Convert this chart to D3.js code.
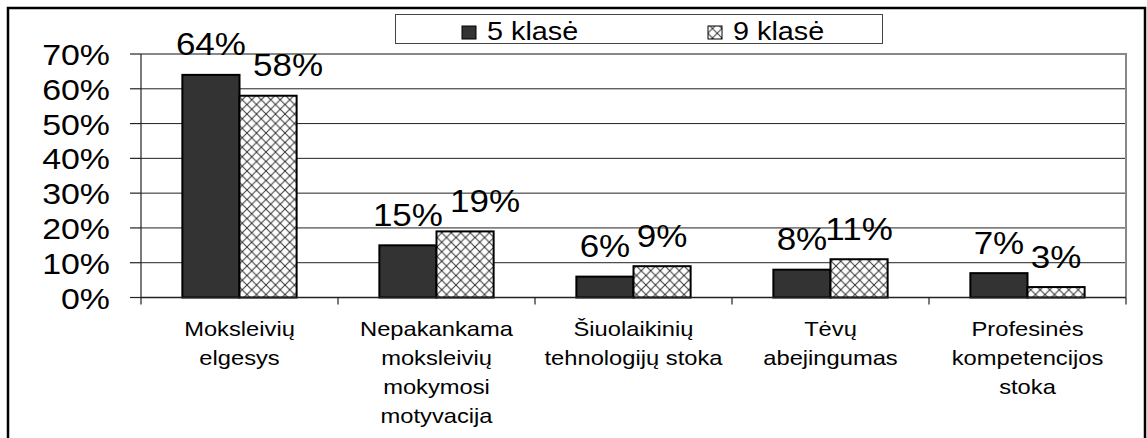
<!DOCTYPE html>
<html>
<head>
<meta charset="utf-8">
<script src="https://cdn.jsdelivr.net/npm/d3@7"></script>
<style>
	body { margin: 0; background: #fff; }
	svg { display: block; }
	text { font-family: "Liberation Sans", Arial, sans-serif; fill: #000; }
</style>
</head>
<body>
<svg id="chart" width="1147" height="438"></svg>
<script>
// data
var categories = [
	["Moksleivių", "elgesys"],
	["Nepakankama", "moksleivių", "mokymosi", "motyvacija"],
	["Šiuolaikinių", "tehnologijų stoka"],
	["Tėvų", "abejingumas"],
	["Profesinės", "kompetencijos", "stoka"]
];
var seriesNames = ["5 klasė", "9 klasė"];
var klase5 = [64, 15, 6, 8, 7];
var klase9 = [58, 19, 9, 11, 3];
var yTicks = [0, 10, 20, 30, 40, 50, 60, 70];

var svg = d3.select("#chart");
var stretch = 1.13; // the source font is drawn a bit wide

// hatch pattern for 9 klasė
var defs = svg.append("defs");
var pat = defs.append("pattern")
	.attr("id", "hatch")
	.attr("patternUnits", "userSpaceOnUse")
	.attr("width", 9.5).attr("height", 9.5);
pat.append("rect").attr("width", 9.5).attr("height", 9.5).attr("fill", "#fff");
pat.append("path")
	.attr("d", "M0,0L9.5,9.5M9.5,0L0,9.5")
	.attr("stroke", "#333").attr("stroke-width", 1);

// outer frame
svg.append("rect")
	.attr("x", 8).attr("y", 8)
	.attr("width", 1137).attr("height", 440)
	.attr("fill", "none").attr("stroke", "#000").attr("stroke-width", 2.5);

var plot = {left: 141, right: 1126, top: 54, bottom: 297.5};

var x = d3.scaleBand()
	.domain(d3.range(categories.length))
	.range([plot.left, plot.right])
	.paddingInner(0).paddingOuter(0);
var y = d3.scaleLinear().domain([0, 70]).range([plot.bottom, plot.top]);
var groupWidth = x.bandwidth() * 0.58;
var xs = d3.scaleBand().domain([0, 1]).range([0, groupWidth]);

function wideText(g, px, py, str, size, anchor){
	g.append("g")
		.attr("transform", "translate(" + px + "," + py + ") scale(" + stretch + ",1)")
		.append("text")
			.attr("font-size", size)
			.attr("text-anchor", anchor)
			.text(str);
}

// gridlines
svg.append("g").selectAll("line")
	.data(yTicks.slice(1, -1))
	.enter().append("line")
		.attr("x1", plot.left).attr("x2", plot.right)
		.attr("y1", function(d) {return y(d);})
		.attr("y2", function(d) {return y(d);})
		.attr("stroke", "#222").attr("stroke-width", 1);

// plot area border top/right
svg.append("path")
	.attr("d", "M" + plot.left + "," + plot.top + "H" + plot.right + "V" + plot.bottom)
	.attr("fill", "none").attr("stroke", "#888").attr("stroke-width", 2);

// y axis
var yAxis = svg.append("g");
yAxis.append("line")
	.attr("x1", plot.left).attr("x2", plot.left)
	.attr("y1", plot.top).attr("y2", plot.bottom)
	.attr("stroke", "#222").attr("stroke-width", 1.2);
yAxis.selectAll(".tick")
	.data(yTicks)
	.enter().append("line")
		.attr("x1", plot.left - 11).attr("x2", plot.left)
		.attr("y1", function(d) {return y(d);})
		.attr("y2", function(d) {return y(d);})
		.attr("stroke", "#222").attr("stroke-width", 1.2);
yTicks.forEach(function(t){
	wideText(yAxis, 110, y(t) + 11, t + "%", 30, "end");
});

// bars
var series = [klase5, klase9];
var fills = ["#333333", "url(#hatch)"];
series.forEach(function(vals, s){
	svg.append("g").selectAll("rect")
		.data(vals)
		.enter().append("rect")
			.attr("x", function(d, i) {return x(i) + (x.bandwidth() - groupWidth) / 2 + xs(s);})
			.attr("width", xs.bandwidth())
			.attr("y", function(d) {return y(d);})
			.attr("height", function(d) {return y(0) - y(d);})
			.attr("fill", fills[s])
			.attr("stroke", "#000").attr("stroke-width", 2);
});

// x axis
var xAxis = svg.append("g");
xAxis.append("line")
	.attr("x1", plot.left).attr("x2", plot.right)
	.attr("y1", plot.bottom).attr("y2", plot.bottom)
	.attr("stroke", "#222").attr("stroke-width", 1.5);
xAxis.selectAll(".tick")
	.data(d3.range(categories.length + 1))
	.enter().append("line")
		.attr("x1", function(d) {return plot.left + d * x.step();})
		.attr("x2", function(d) {return plot.left + d * x.step();})
		.attr("y1", plot.bottom).attr("y2", plot.bottom + 7)
		.attr("stroke", "#222").attr("stroke-width", 1.2);
categories.forEach(function(lines, i){
	lines.forEach(function(l, j){
		wideText(xAxis, x(i) + x.bandwidth() / 2, 336 + j * 29, l, 21, "middle");
	});
});

// value labels; the two tallest 9 klasė labels sit a little to the right in the source
var labels = svg.append("g");
series.forEach(function(vals, s){
	vals.forEach(function(v, i){
		var cx = x(i) + (x.bandwidth() - groupWidth) / 2 + xs(s) + xs.bandwidth() / 2;
		if(s === 1 && i < 2) cx += 20;
		wideText(labels, cx, y(v) - 19.5, v + "%", 31, "middle");
	});
});

// legend
var legend = svg.append("g");
legend.append("rect")
	.attr("x", 395.5).attr("y", 14.5)
	.attr("width", 487).attr("height", 29)
	.attr("fill", "#fff").attr("stroke", "#444").attr("stroke-width", 1);
var legendX = [462, 708];
seriesNames.forEach(function(name, s){
	legend.append("rect")
		.attr("x", legendX[s]).attr("y", 26)
		.attr("width", 14).attr("height", 13)
		.attr("fill", fills[s]).attr("stroke", "#000").attr("stroke-width", 1);
	wideText(legend, legendX[s] + 25, 39.5, name, 25.5, "start");
});
</script>
</body>
</html>
